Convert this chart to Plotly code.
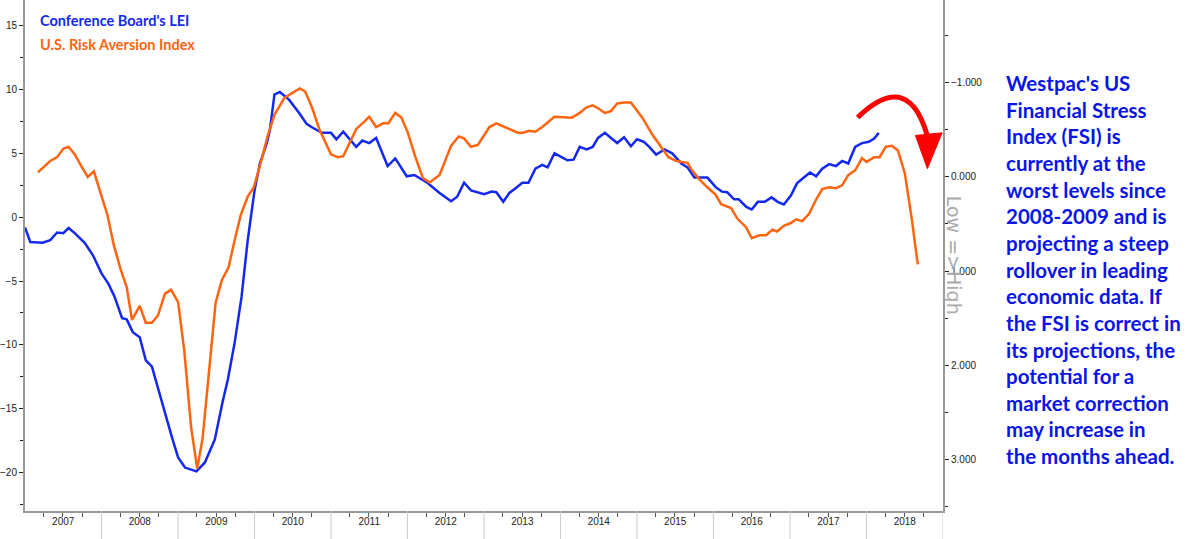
import pandas as pd
import plotly.graph_objects as go

# Conference Board LEI (decimal year, value) - left axis
lei_years = [2007.0, 2007.07, 2007.23, 2007.33, 2007.42, 2007.5, 2007.57, 2007.65, 2007.78, 2007.89,
             2008.0, 2008.09, 2008.17, 2008.27, 2008.33, 2008.41, 2008.5, 2008.58, 2008.66, 2008.74,
             2008.83, 2008.92, 2009.0, 2009.09, 2009.24, 2009.35, 2009.48, 2009.58, 2009.65, 2009.74,
             2009.83, 2009.91, 2010.0, 2010.07, 2010.16, 2010.2, 2010.26, 2010.33, 2010.45, 2010.59,
             2010.68, 2010.76, 2010.88, 2011.0, 2011.07, 2011.16, 2011.33, 2011.41, 2011.5, 2011.59,
             2011.74, 2011.84, 2011.99, 2012.09, 2012.18, 2012.26, 2012.42, 2012.57, 2012.65, 2012.74,
             2012.83, 2013.0, 2013.1, 2013.16, 2013.25, 2013.33, 2013.42, 2013.5, 2013.58, 2013.67,
             2013.76, 2013.83, 2013.92, 2014.01, 2014.09, 2014.17, 2014.25, 2014.34, 2014.42, 2014.49,
             2014.58, 2014.66, 2014.74, 2014.83, 2014.92, 2015.0, 2015.09, 2015.16, 2015.25, 2015.36,
             2015.46, 2015.58, 2015.66, 2015.75, 2015.92, 2016.03, 2016.11, 2016.18, 2016.27, 2016.33,
             2016.43, 2016.5, 2016.58, 2016.67, 2016.76, 2016.84, 2016.92, 2017.01, 2017.09, 2017.18,
             2017.26, 2017.34, 2017.42, 2017.51, 2017.6, 2017.68, 2017.76, 2017.85, 2017.94, 2018.03,
             2018.1, 2018.16]
lei_values = [-0.8, -1.95, -2.0, -1.8, -1.2, -1.25, -0.85, -1.25, -2.0, -3.0,
              -4.4, -5.2, -6.2, -7.9, -8.0, -9.0, -9.4, -11.2, -11.7, -13.3,
              -15.3, -17.2, -18.8, -19.6, -19.9, -19.2, -17.4, -14.5, -12.7, -9.8,
              -6.2, -1.8, 2.1, 4.2, 5.8, 6.8, 9.6, 9.8, 9.2, 8.1,
              7.3, 7.0, 6.6, 6.6, 6.1, 6.7, 5.5, 6.0, 5.8, 6.2,
              4.0, 4.6, 3.2, 3.3, 3.0, 2.7, 1.9, 1.25, 1.6, 2.7,
              2.1, 1.8, 2.0, 1.95, 1.2, 1.9, 2.3, 2.7, 2.7, 3.8,
              4.1, 3.9, 5.0, 4.7, 4.45, 4.5, 5.5, 5.3, 5.5, 6.2,
              6.6, 6.2, 5.8, 6.25, 5.55, 6.1, 5.9, 5.5, 4.9, 5.3,
              5.0, 4.2, 3.9, 3.1, 3.1, 2.35, 2.0, 1.95, 1.4, 1.4,
              0.8, 0.6, 1.2, 1.2, 1.55, 1.2, 1.0, 1.7, 2.65, 3.1,
              3.5, 3.2, 3.8, 4.15, 4.0, 4.4, 4.2, 5.5, 5.8, 5.9,
              6.15, 6.6]

# Westpac US Financial Stress Index (decimal year, value) - right axis, reversed
fsi_years = [2007.17, 2007.33, 2007.42, 2007.5, 2007.57, 2007.65, 2007.74, 2007.82, 2007.9, 2007.99,
             2008.08, 2008.16, 2008.25, 2008.33, 2008.4, 2008.5, 2008.58, 2008.66, 2008.74, 2008.83,
             2008.91, 2009.0, 2009.08, 2009.17, 2009.25, 2009.32, 2009.42, 2009.49, 2009.57, 2009.66,
             2009.74, 2009.82, 2009.91, 2009.99, 2010.09, 2010.17, 2010.26, 2010.39, 2010.59, 2010.66,
             2010.75, 2010.85, 2011.0, 2011.09, 2011.16, 2011.25, 2011.33, 2011.44, 2011.5, 2011.59,
             2011.68, 2011.75, 2011.84, 2011.92, 2012.0, 2012.1, 2012.2, 2012.29, 2012.42, 2012.57,
             2012.67, 2012.74, 2012.83, 2012.92, 2013.07, 2013.16, 2013.27, 2013.44, 2013.51, 2013.59,
             2013.67, 2013.76, 2013.92, 2014.15, 2014.25, 2014.34, 2014.42, 2014.49, 2014.58, 2014.66,
             2014.74, 2014.83, 2014.92, 2015.07, 2015.2, 2015.32, 2015.41, 2015.51, 2015.66, 2015.72,
             2015.81, 2015.92, 2016.03, 2016.1, 2016.23, 2016.31, 2016.43, 2016.5, 2016.6, 2016.69,
             2016.77, 2016.83, 2016.92, 2017.01, 2017.08, 2017.16, 2017.25, 2017.34, 2017.42, 2017.51,
             2017.6, 2017.68, 2017.76, 2017.85, 2017.94, 2018.0, 2018.1, 2018.17, 2018.25, 2018.33,
             2018.41, 2018.5, 2018.59, 2018.67]
fsi_values = [-0.05, -0.17, -0.21, -0.30, -0.32, -0.24, -0.11, 0.0, -0.06, 0.19,
              0.41, 0.72, 0.98, 1.17, 1.52, 1.37, 1.55, 1.55, 1.47, 1.24,
              1.2, 1.33, 1.84, 2.66, 3.1, 2.78, 1.95, 1.34, 1.1, 0.96,
              0.67, 0.4, 0.21, 0.11, -0.18, -0.43, -0.66, -0.84, -0.94, -0.91,
              -0.74, -0.5, -0.24, -0.21, -0.22, -0.38, -0.51, -0.59, -0.64, -0.53,
              -0.57, -0.57, -0.68, -0.63, -0.48, -0.22, 0.01, 0.06, -0.02, -0.33,
              -0.43, -0.41, -0.32, -0.34, -0.53, -0.57, -0.53, -0.47, -0.47, -0.49,
              -0.48, -0.53, -0.64, -0.63, -0.68, -0.74, -0.76, -0.73, -0.68, -0.7,
              -0.78, -0.79, -0.79, -0.63, -0.45, -0.32, -0.21, -0.17, -0.15, -0.07,
              0.02, 0.11, 0.19, 0.29, 0.33, 0.44, 0.54, 0.65, 0.62, 0.62,
              0.56, 0.58, 0.52, 0.49, 0.45, 0.47, 0.39, 0.24, 0.13, 0.11,
              0.12, 0.09, -0.02, -0.07, -0.2, -0.16, -0.21, -0.21, -0.32, -0.33,
              -0.28, -0.04, 0.44, 0.93]

years = list(range(2007, 2019))

comment_lines = ["Westpac's US", "Financial Stress", "Index (FSI) is", "currently at the",
                 "worst levels since", "2008-2009 and is", "projecting a steep",
                 "rollover in leading", "economic data. If", "the FSI is correct in",
                 "its projections, the", "potential for a", "market correction",
                 "may increase in", "the months ahead."]


def to_dates(yrs):
    out = []
    for y in yrs:
        base = pd.Timestamp(int(y), 1, 1)
        out.append(base + pd.Timedelta(days=(y - int(y)) * 365.25))
    return out


BLUE = "#1428f0"
ORANGE = "#ff6410"

fig = go.Figure()
fig.add_trace(go.Scatter(x=to_dates(fsi_years), y=fsi_values, yaxis="y2", mode="lines",
                         line=dict(color=ORANGE, width=2.5), name="U.S. Risk Aversion Index"))
fig.add_trace(go.Scatter(x=to_dates(lei_years), y=lei_values, mode="lines",
                         line=dict(color=BLUE, width=2.5), name="Conference Board's LEI"))

fig.update_layout(
    width=1200, height=539,
    margin=dict(l=25, r=257, t=0, b=28),
    plot_bgcolor="white", paper_bgcolor="white",
    showlegend=False,
    font=dict(family="Liberation Sans Narrow, Liberation Sans", size=10, color="#222"),
    xaxis=dict(range=["2007-01-01", "2019-01-01"], dtick="M12", tickformat="%Y",
               ticklabelmode="period", ticks="", automargin=False,
               showline=True, linecolor="#999", linewidth=2, showgrid=False,
               minor=dict(dtick="M3", ticks="outside", ticklen=4, tickcolor="#555")),
    yaxis=dict(range=[-23, 17], dtick=5, ticks="outside", ticklen=4, tickcolor="#222",
               automargin=False,
               showline=True, linecolor="#999", linewidth=2, showgrid=False, zeroline=False,
               minor=dict(dtick=2.5, ticks="outside", ticklen=3)),
    yaxis2=dict(overlaying="y", side="right", range=[3.55, -1.88], dtick=1, tickformat=".3f",
                ticks="outside", ticklen=4, tickcolor="#222", showline=True, linecolor="#999",
                automargin=False,
                linewidth=2, showgrid=False, zeroline=False,
                minor=dict(dtick=0.5, ticks="outside", ticklen=3)),
)

# year separators below the axis
for y in years[1:] + [2019]:
    fig.add_shape(type="line", xref="x", yref="paper", x0=pd.Timestamp(y, 1, 1),
                  x1=pd.Timestamp(y, 1, 1), y0=0, y1=-0.06, line=dict(color="#ccc", width=1))

fig.add_annotation(x=0.014, y=0.96, xref="paper", yref="paper", xanchor="left", yanchor="middle",
                   text="<b>Conference Board's LEI</b>", showarrow=False,
                   font=dict(family="Lato", size=14.5, color=BLUE))
fig.add_annotation(x=0.014, y=0.912, xref="paper", yref="paper", xanchor="left", yanchor="middle",
                   text="<b>U.S. Risk Aversion Index</b>", showarrow=False,
                   font=dict(family="Lato", size=14.5, color=ORANGE))
fig.add_annotation(x=1.027, y=0.5, xref="paper", yref="paper", text="Low =>High", textangle=90,
                   showarrow=False, font=dict(family="DejaVu Sans", size=19, color="#aaa"))
fig.add_annotation(x=1.066, y=0.472, xref="paper", yref="paper", xanchor="left", yanchor="middle",
                   align="left", showarrow=False,
                   text="<br>".join("<b>%s</b>" % s for s in comment_lines),
                   font=dict(family="Lato", size=20.5, color="#0a14e6"))

# red curved arrow
fig.add_shape(type="path", xref="paper", yref="paper",
              path="M 0.907 0.77 Q 0.965 0.87 0.985 0.72",
              line=dict(color="red", width=5))
fig.add_shape(type="path", xref="paper", yref="paper",
              path="M 0.970 0.735 L 0.999 0.74 L 0.983 0.67 Z",
              fillcolor="red", line=dict(color="red", width=1))

fig.write_html("out.html", config={"displayModeBar": False},
               post_script="document.body.style.margin='0';")
